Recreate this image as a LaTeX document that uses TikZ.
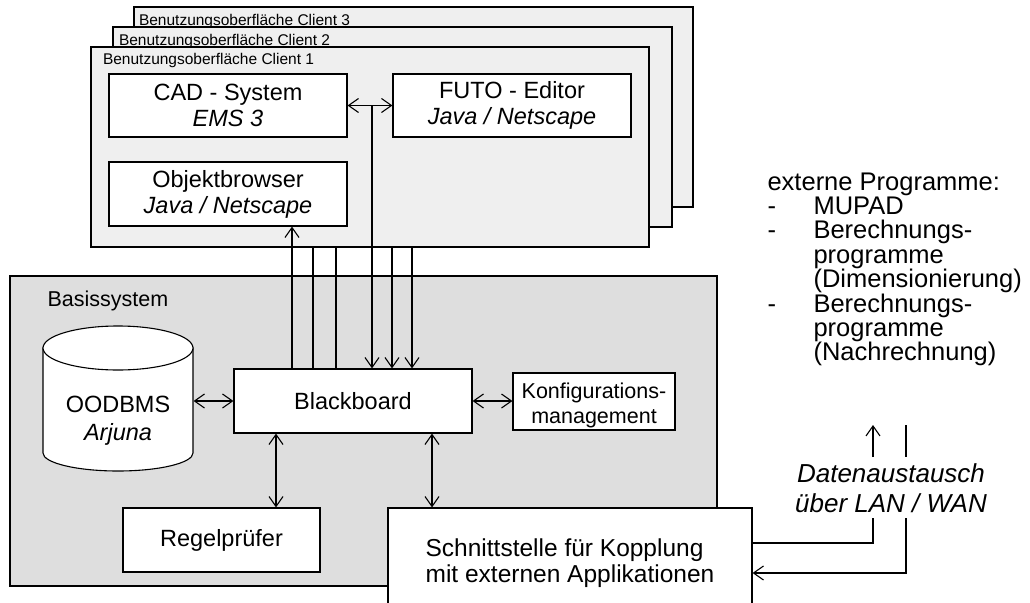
\documentclass[tikz,border=0pt]{standalone}
\usepackage{fontspec}
\setmainfont{Liberation Sans}
\usetikzlibrary{arrows.meta,calc}
\definecolor{clientgray}{RGB}{239,239,239}
\definecolor{basisgray}{RGB}{222,222,222}
\begin{document}
\begin{tikzpicture}[x=1pt,y=-1pt, line width=1.1pt,
  >={Straight Barb[length=10pt,width=14pt]},
  box/.style={draw, fill=white, inner sep=0pt, align=center, font=\fontsize{23.5}{26}\selectfont},
  client/.style={draw, fill=clientgray, minimum width=559pt, minimum height=200pt, inner sep=0pt},
  clientlabel/.style={anchor=base west, inner sep=0pt, font=\fontsize{15.5}{18}\selectfont},
  plain/.style={inner sep=0pt}]
\fill[white] (0,0) rectangle (1030,602);
\useasboundingbox (0,0) rectangle (1030,602);
\clip (0,0) rectangle (1030,602);

% clients
\node[client] (c3) at (413.5,107) {};
\node[clientlabel] (l3) at ($(c3.north west)+(5,19)$) {Benutzungsoberfläche Client 3};
\node[client] (c2) at (392.5,127) {};
\node[clientlabel] (l2) at ($(c2.north west)+(6,19)$) {Benutzungsoberfläche Client 2};
\node[client, minimum width=558pt] (c1) at (370,147) {};
\node[clientlabel] (l1) at ($(c1.north west)+(12,18)$) {Benutzungsoberfläche Client 1};

\node[box, minimum width=238pt, minimum height=63pt] (cad) at (228,105.5) {CAD - System\\\textit{EMS 3}};
\node[box, minimum width=238pt, minimum height=63pt] (futo) at (512,105.5) {FUTO - Editor\\\textit{Java / Netscape}};
\node[box, minimum width=238pt, minimum height=64pt] (ob) at (228,194) {Objektbrowser\\\textit{Java / Netscape}};

% Basissystem
\node[draw, fill=basisgray, minimum width=707pt, minimum height=310pt, inner sep=0pt] (basis) at (363.5,431) {};
\node[anchor=base west, plain, font=\fontsize{21.5}{24}\selectfont] (basislabel) at (47,306) {Basissystem};

% cylinder
\filldraw[fill=white] (43,348) -- (43,453)
  .. controls (43,462.9) and (76.6,471) .. (118,471)
  .. controls (159.4,471) and (193,462.9) .. (193,453) -- (193,348) -- cycle;
\filldraw[fill=white] (118,348) ellipse [x radius=75pt, y radius=22pt];
\node[plain, minimum width=150pt, minimum height=102pt, align=center,
      font=\fontsize{23.5}{28}\selectfont] (db) at (118,421) {OODBMS\\\textit{Arjuna}};

\node[box, minimum width=238pt, minimum height=64pt] (bb) at (353,401) {Blackboard};
\node[box, minimum width=162pt, minimum height=57pt] (konf) at (594,401.5) {};
\node[plain, align=center, font=\fontsize{21.5}{24.5}\selectfont] (konftxt) at (594,405.5) {Konfigurations-\\management};
\node[box, minimum width=197pt, minimum height=64pt] (regel) at (221.5,540) {Regelprüfer};
\node[box, minimum width=364pt, minimum height=111pt, align=left,
      font=\fontsize{24.5}{26.3}\selectfont] (schn) at (570,563.5) {Schnittstelle für Kopplung\\mit externen Applikationen};

% external programs
\node[anchor=north west, plain, align=left, font=\fontsize{25.5}{24.4}\selectfont] (ext) at (767,172) {externe Programme:\\
\makebox[46pt][l]{-}MUPAD\\
\makebox[46pt][l]{-}Berechnungs-\\
\hspace*{46pt}programme\\
\hspace*{46pt}(Dimensionierung)\\
\makebox[46pt][l]{-}Berechnungs-\\
\hspace*{46pt}programme\\
\hspace*{46pt}(Nachrechnung)};
\node[anchor=north, plain, align=center, font=\itshape\fontsize{26}{30}\selectfont] (daten) at (891,463.5) {Datenaustausch\\über LAN / WAN};

% helper coordinates
\coordinate (xa) at (292,0);
\coordinate (xb) at (313,0);
\coordinate (xc) at (336,0);
\coordinate (xd) at (372,0);
\coordinate (xe) at (392,0);
\coordinate (xf) at (412,0);
\coordinate (xg) at (276,0);
\coordinate (xh) at (432,0);
\coordinate (ya) at (0,543);
\coordinate (yb) at (0,573);
\coordinate (pa) at (873,425);
\coordinate (pb) at (873,457);
\coordinate (pc) at (873,518);
\coordinate (qa) at (906,425);
\coordinate (qb) at (906,457);
\coordinate (qc) at (906,518);

% connectors
\draw[->] (bb.north -| xa) -- (ob.south -| xa);
\draw (bb.north -| xb) -- (c1.south -| xb);
\draw (bb.north -| xc) -- (c1.south -| xc);
\draw[<->] (cad.east) -- (futo.west);
\draw[->] (cad.east -| xd) -- (bb.north -| xd);
\draw[->] (c1.south -| xe) -- (bb.north -| xe);
\draw[->] (c1.south -| xf) -- (bb.north -| xf);
\draw[<->] (bb.west -| db.east) -- (bb.west);
\draw[<->] (bb.east) -- (bb.east -| konf.west);
\draw[<->] (bb.south -| xg) -- (regel.north -| xg);
\draw[<->] (bb.south -| xh) -- (schn.north -| xh);

\draw (schn.east |- ya) -| (pc);
\draw[->] (pb) -- (pa);
\draw (qa) -- (qb);
\draw[->] (qc) |- (schn.east |- yb);
\end{tikzpicture}
\end{document}
